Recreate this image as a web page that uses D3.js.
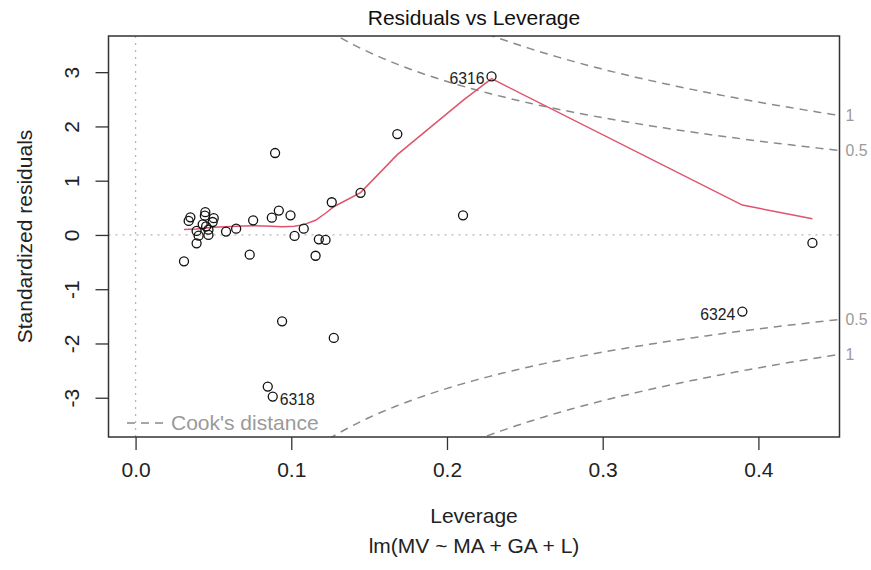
<!DOCTYPE html>
<html>
<head>
<meta charset="utf-8">
<script src="https://cdn.jsdelivr.net/npm/d3@7"></script>
<style>
  html, body { margin: 0; padding: 0; background: #fff; }
  svg { display: block; }
  text { font-family: "Liberation Sans", Arial, Helvetica, sans-serif; }
</style>
</head>
<body>
<svg id="chart" width="871" height="570"></svg>
<script>
// Leverage (hat values) and standardized residuals of lm(MV ~ MA + GA + L)
const leverage = [
  0.0311, 0.0341, 0.0352, 0.0392, 0.0392, 0.0405, 0.0431, 0.0445, 0.0448, 0.0453,
  0.0468, 0.0468, 0.0495, 0.0502, 0.0581, 0.0646, 0.0733, 0.0755, 0.0875, 0.0920,
  0.0995, 0.1021, 0.1080, 0.1156, 0.1177, 0.1220, 0.1260, 0.1445, 0.0896, 0.1681,
  0.2103, 0.2286, 0.3897, 0.4347, 0.0941, 0.1273, 0.0849, 0.0881
];
const stdResid = [
  -0.486, 0.258, 0.324, 0.074, -0.155, -0.013, 0.195, 0.355, 0.419, 0.158,
  0.000, 0.098, 0.239, 0.309, 0.063, 0.116, -0.363, 0.269, 0.319, 0.449,
  0.361, -0.018, 0.116, -0.383, -0.081, -0.092, 0.603, 0.777, 1.510, 1.859,
  0.361, 2.921, -1.412, -0.147, -1.591, -1.898, -2.794, -2.978
];

// Observation ids shown next to the most extreme points
const idLabels = ["6316", "6318", "6324"];
const idIndex = [31, 37, 32];

// Smoother through the residuals
const smoothLev = [
  0.0311, 0.0392, 0.0453, 0.0502, 0.0581, 0.0646, 0.0755, 0.0875, 0.0941, 0.1021,
  0.1080, 0.1156, 0.1220, 0.1273, 0.1445, 0.1681, 0.2103, 0.2286, 0.3897, 0.4347
];
const smoothFit = [
  0.10, 0.11, 0.13, 0.14, 0.15, 0.16, 0.17, 0.16, 0.15, 0.16,
  0.19, 0.27, 0.40, 0.52, 0.78, 1.48, 2.48, 2.88, 0.55, 0.30
];

// Cook's distance contour levels and number of model coefficients
const cookLevels = [0.5, 1];
const nCoef = 4;

const xTicks = [0.0, 0.1, 0.2, 0.3, 0.4];
const yTicks = [-3, -2, -1, 0, 1, 2, 3];

const svg = d3.select("#chart");
const box = { left: 108.5, right: 839.5, top: 36, bottom: 437 };

// R-style axis limits: data range padded by 4%
function pad(lo, hi, f) { const d = (hi - lo) * f; return [lo - d, hi + d]; }
const xDom = pad(0, d3.max(leverage), 0.04);
const yr = pad(d3.min(stdResid), d3.max(stdResid), 0.08);
const yDom = pad(yr[0], yr[1], 0.04);

const x = d3.scaleLinear().domain(xDom).range([box.left, box.right]);
const y = d3.scaleLinear().domain(yDom).range([box.bottom, box.top]);

const grey = "#9a9a9a";
const dashGrey = "#8a8a8a";
const fontPx = 21;
const fontFam = "Liberation Sans, Arial, sans-serif";
// plain hyphen-minus for negative tick labels
const intFmt = d => String(d);

svg.append("defs").append("clipPath").attr("id", "plotClip")
  .append("rect")
  .attr("x", box.left).attr("y", box.top)
  .attr("width", box.right - box.left).attr("height", box.bottom - box.top);

const plot = svg.append("g").attr("clip-path", "url(#plotClip)");

// reference lines at zero
plot.append("line")
  .attr("x1", box.left).attr("x2", box.right)
  .attr("y1", y(0)).attr("y2", y(0))
  .attr("stroke", "#b5b5b5").attr("stroke-width", 1.3).attr("stroke-dasharray", "2,5");
plot.append("line")
  .attr("x1", x(0)).attr("x2", x(0))
  .attr("y1", box.top).attr("y2", box.bottom)
  .attr("stroke", "#b5b5b5").attr("stroke-width", 1.3).attr("stroke-dasharray", "2,5");

// Cook's distance contours
const hMin = Math.min(leverage[0], leverage[1] / 100);
const hh = d3.range(101).map(i => hMin + (xDom[1] - hMin) * i / 100);
const cookLine = d3.line().x(d => x(d[0])).y(d => y(d[1]));
cookLevels.forEach(level => {
  [1, -1].forEach(sign => {
    const pts = hh.map(h => [h, sign * Math.sqrt(level * nCoef * (1 - h) / h)]);
    plot.append("path")
      .attr("d", cookLine(pts))
      .attr("fill", "none")
      .attr("stroke", dashGrey).attr("stroke-width", 1.5)
      .attr("stroke-dasharray", "8,6");
  });
});

// smoother
plot.append("path")
  .attr("d", d3.line().x((d, i) => x(smoothLev[i])).y(d => y(d))(smoothFit))
  .attr("fill", "none")
  .attr("stroke", "#DF536B").attr("stroke-width", 1.5);

// points
svg.append("g").selectAll("circle")
  .data(leverage)
  .join("circle")
  .attr("cx", d => x(d))
  .attr("cy", (d, i) => y(stdResid[i]))
  .attr("r", 4.5)
  .attr("fill", "none")
  .attr("stroke", "#111")
  .attr("stroke-width", 1.3);

// id labels, placed left or right depending on which half of the plot the point sits in
const xMid = (xDom[0] + xDom[1]) / 2;
idLabels.forEach((lab, k) => {
  const i = idIndex[k];
  const left = leverage[i] > xMid;
  svg.append("text")
    .attr("x", x(leverage[i]) + (left ? -7 : 7))
    .attr("y", y(stdResid[i]) + 8)
    .attr("text-anchor", left ? "end" : "start")
    .attr("font-size", 15.75)
    .attr("fill", "#222")
    .text(lab);
});

// frame
svg.append("rect")
  .attr("x", box.left).attr("y", box.top)
  .attr("width", box.right - box.left).attr("height", box.bottom - box.top)
  .attr("fill", "none").attr("stroke", "#333").attr("stroke-width", 1.5);

// x axis
const xAxis = d3.axisBottom(x).tickValues(xTicks).tickFormat(d3.format(".1f"))
  .tickSize(13).tickPadding(12);
const gx = svg.append("g").attr("transform", `translate(0,${box.bottom})`).call(xAxis);
gx.select(".domain").remove();
gx.selectAll(".tick line").attr("stroke", "#333").attr("stroke-width", 1.3);
gx.selectAll(".tick text").attr("font-size", fontPx).attr("fill", "#222")
  .attr("font-family", fontFam);

// y axis with labels running parallel to the axis
const yAxis = d3.axisLeft(y).tickValues(yTicks).tickFormat(intFmt).tickSize(13);
const gy = svg.append("g").attr("transform", `translate(${box.left},0)`).call(yAxis);
gy.select(".domain").remove();
gy.selectAll(".tick line").attr("stroke", "#333").attr("stroke-width", 1.3);
gy.selectAll(".tick text")
  .attr("x", 0).attr("dy", null)
  .attr("transform", "translate(-30,0) rotate(-90)")
  .attr("text-anchor", "middle")
  .attr("font-size", fontPx).attr("fill", "#222")
  .attr("font-family", fontFam);

// Cook's contour labels on the right margin
cookLevels.forEach(level => {
  const v = Math.sqrt(level * nCoef * (1 - xDom[1]) / xDom[1]);
  [1, -1].forEach(sign => {
    svg.append("text")
      .attr("x", box.right + 6)
      .attr("y", y(sign * v))
      .attr("dy", "0.35em")
      .attr("font-size", 15.75)
      .attr("fill", grey)
      .text(String(level));
  });
});

// legend
const legY = 423;
svg.append("line")
  .attr("x1", 127).attr("x2", 165).attr("y1", legY).attr("y2", legY)
  .attr("stroke", dashGrey).attr("stroke-width", 1.5).attr("stroke-dasharray", "8,6");
svg.append("text")
  .attr("x", 171).attr("y", legY).attr("dy", "0.35em")
  .attr("font-size", fontPx).attr("fill", grey)
  .text("Cook's distance");

// titles
const cx = (box.left + box.right) / 2;
const cy = (box.top + box.bottom) / 2;
svg.append("text").attr("x", cx).attr("y", 25).attr("text-anchor", "middle")
  .attr("font-size", fontPx).attr("fill", "#111").text("Residuals vs Leverage");
svg.append("text").attr("x", cx).attr("y", 523).attr("text-anchor", "middle")
  .attr("font-size", fontPx).attr("fill", "#222").text("Leverage");
svg.append("text").attr("x", cx).attr("y", 553).attr("text-anchor", "middle")
  .attr("font-size", fontPx).attr("fill", "#222").text("lm(MV ~ MA + GA + L)");
svg.append("text")
  .attr("transform", `translate(32,${cy}) rotate(-90)`)
  .attr("text-anchor", "middle")
  .attr("font-size", fontPx).attr("fill", "#222").text("Standardized residuals");
</script>
</body>
</html>
